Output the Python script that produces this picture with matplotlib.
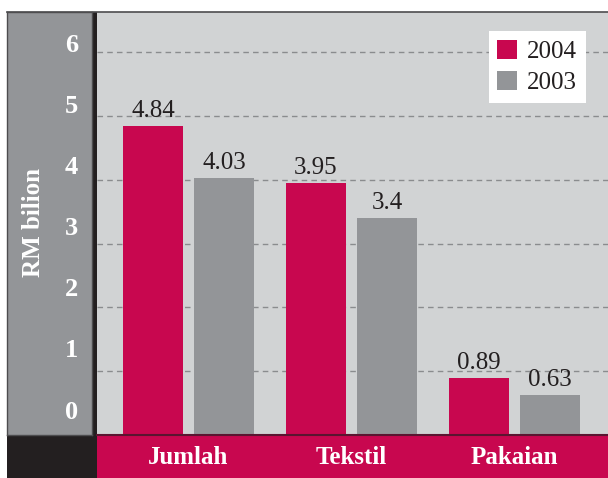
import matplotlib
matplotlib.use("Agg")
import matplotlib.pyplot as plt
import numpy as np
from matplotlib.patches import Rectangle, Patch
from matplotlib.lines import Line2D

plt.rcParams['font.family'] = ['Liberation Serif', 'DejaVu Serif']

# data
categories = ['Jumlah', 'Tekstil', 'Pakaian']
years = ['2004', '2003']
v2004 = [4.84, 3.95, 0.89]
v2003 = [4.03, 3.4, 0.63]
yticks = [0, 1, 2, 3, 4, 5, 6]

crimson = '#c8074f'
gray = '#939598'
bg = '#d1d3d4'
dark = '#231f20'

W, H = 608, 478
fig = plt.figure(figsize=(W / 100, H / 100), dpi=100)
fig.patch.set_facecolor('white')

def fx(px):
    return px / W

def fy(py):
    return (H - py) / H

# background blocks (pixel layout)
fig.patches.append(Rectangle((fx(7), fy(478)), fx(90), 43 / H, transform=fig.transFigure,
                             facecolor=dark, edgecolor='none', zorder=-2))
fig.patches.append(Rectangle((fx(97), fy(478)), fx(511), 43 / H, transform=fig.transFigure,
                             facecolor=crimson, edgecolor='none', zorder=-2))
fig.patches.append(Rectangle((fx(92), fy(435)), fx(5), 423 / H, transform=fig.transFigure,
                             facecolor=dark, edgecolor='none', zorder=-1))

# left panel with y labels
axl = fig.add_axes([fx(7), fy(435), fx(85), 423 / H])
axl.set_facecolor(gray)
axl.set_xlim(0, 1)
axl.set_ylim(-0.376, 6.54)
axl.set_xticks([])
axl.set_yticks([])
for s in axl.spines.values():
    s.set_color('#4d4d4f')
    s.set_linewidth(1)
for t in yticks:
    axl.text(0.835, t, str(t), ha='right', va='center', color='white',
             fontsize=19, fontweight='bold')
axl.text(0.31, 3.1, 'RM bilion', rotation=90, ha='center', va='center',
         color='white', fontsize=18, fontweight='bold')

# main plot
ax = fig.add_axes([fx(97), fy(435), fx(511), 423 / H])
ax.set_facecolor(bg)
x = np.arange(len(categories))
w = 0.368
off = 0.218
ax.set_xlim(-0.561, 2.574)
ax.set_ylim(0, 6.63)

for t in yticks[1:]:
    ax.axhline(t, color='#8a8c8e', lw=1, ls=(0, (4, 3)), zorder=1)

b1 = ax.bar(x - off, v2004, w, color=crimson, zorder=2)
b2 = ax.bar(x + off, v2003, w, color=gray, zorder=2)
for bars, vals in [(b1, v2004), (b2, v2003)]:
    for r, v in zip(bars, vals):
        ax.annotate(f'{v:g}', (r.get_x() + r.get_width() / 2, v),
                    xytext=(0, 3), textcoords='offset points',
                    ha='center', va='bottom', fontsize=18, color=dark)

ax.set_yticks([])
ax.set_xticks(x, categories)
ax.tick_params(axis='x', length=0, pad=8, labelcolor='white', labelsize=18)
for lab in ax.get_xticklabels():
    lab.set_fontweight('bold')
for s in ['left', 'right', 'top']:
    ax.spines[s].set_visible(False)
ax.spines['bottom'].set_color('#5a1530')
ax.spines['bottom'].set_linewidth(1.5)

handles = [Patch(facecolor=crimson, label=years[0]), Patch(facecolor=gray, label=years[1])]
leg = ax.legend(handles=handles, loc='upper right', bbox_to_anchor=(0.957, 0.955),
                borderaxespad=0, fontsize=18, frameon=True, fancybox=False,
                handlelength=0.8, handleheight=0.8, handletextpad=0.4,
                labelspacing=0.3, borderpad=0.35)
leg.get_frame().set_facecolor('white')
leg.get_frame().set_edgecolor('none')
leg.get_frame().set_alpha(1)
for t in leg.get_texts():
    t.set_color(dark)

# top frame line
fig.add_artist(Line2D([fx(7), 1], [fy(12), fy(12)], transform=fig.transFigure,
                      color='#4d4d4f', lw=1.2))

fig.savefig('out.png', dpi=100)
